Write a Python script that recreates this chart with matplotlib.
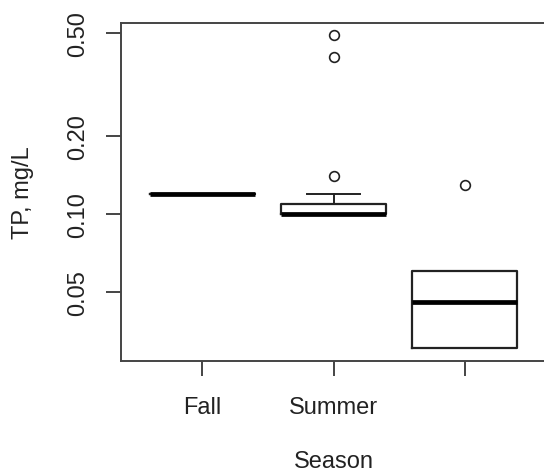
import matplotlib
matplotlib.use("Agg")
import matplotlib.pyplot as plt
from matplotlib.ticker import FixedLocator, NullLocator

plt.rcParams['font.family'] = ['Liberation Sans', 'DejaVu Sans']

# boxplot summary (log scale, mg/L)
seasons = ['Fall', 'Summer', '']
q1 = [0.12, 0.100, 0.0304]
med = [0.12, 0.100, 0.0457]
q3 = [0.12, 0.109, 0.0604]
whislo = [0.12, 0.100, 0.0304]
whishi = [0.12, 0.120, 0.0604]
fliers = [[], [0.14, 0.405, 0.49], [0.13]]

yticks = [0.05, 0.10, 0.20, 0.50]
ytick_labels = ['0.05', '0.10', '0.20', '0.50']

stats = []
for i in range(len(seasons)):
    stats.append({'q1': q1[i], 'med': med[i], 'q3': q3[i],
                  'whislo': whislo[i], 'whishi': whishi[i],
                  'fliers': fliers[i], 'label': seasons[i]})

W, H = 544, 477
fig = plt.figure(figsize=(W / 100, H / 100), dpi=100)
ax = fig.add_axes([121 / W, (H - 362) / H, 425 / W, 338 / H])

line = '#222222'
ax.bxp(stats, positions=[1, 2, 3], widths=0.8, capwidths=0.4,
       boxprops=dict(color=line, linewidth=1.6),
       medianprops=dict(color='black', linewidth=3.4, solid_capstyle='butt'),
       whiskerprops=dict(color=line, linewidth=1.4, linestyle='-'),
       capprops=dict(color=line, linewidth=1.4),
       flierprops=dict(marker='o', markerfacecolor='none', markeredgecolor=line,
                       markersize=7, markeredgewidth=1.2))

ax.set_yscale('log')
ax.set_ylim(0.0271, 0.546)
ax.set_xlim(0.38, 3.62)
ax.yaxis.set_major_locator(FixedLocator(yticks))
ax.yaxis.set_minor_locator(NullLocator())
ax.set_yticklabels(ytick_labels)
ax.set_xticks([1, 2, 3])
ax.set_xticklabels(seasons)

for s in ax.spines.values():
    s.set_color('#444444')
    s.set_linewidth(1.4)

ax.tick_params(axis='both', length=10.5, width=1.4, color='#444444',
               labelsize=17, labelcolor='#222222')
ax.tick_params(axis='x', pad=15)
ax.tick_params(axis='y', pad=12.5)
for t in ax.get_yticklabels():
    t.set_rotation(90)
    t.set_va('center')

ax.set_xlabel('Season', fontsize=17, color='#222222', labelpad=23)
ax.set_ylabel('TP, mg/L', fontsize=17, color='#222222', labelpad=24)

fig.savefig('out.png', dpi=100)
